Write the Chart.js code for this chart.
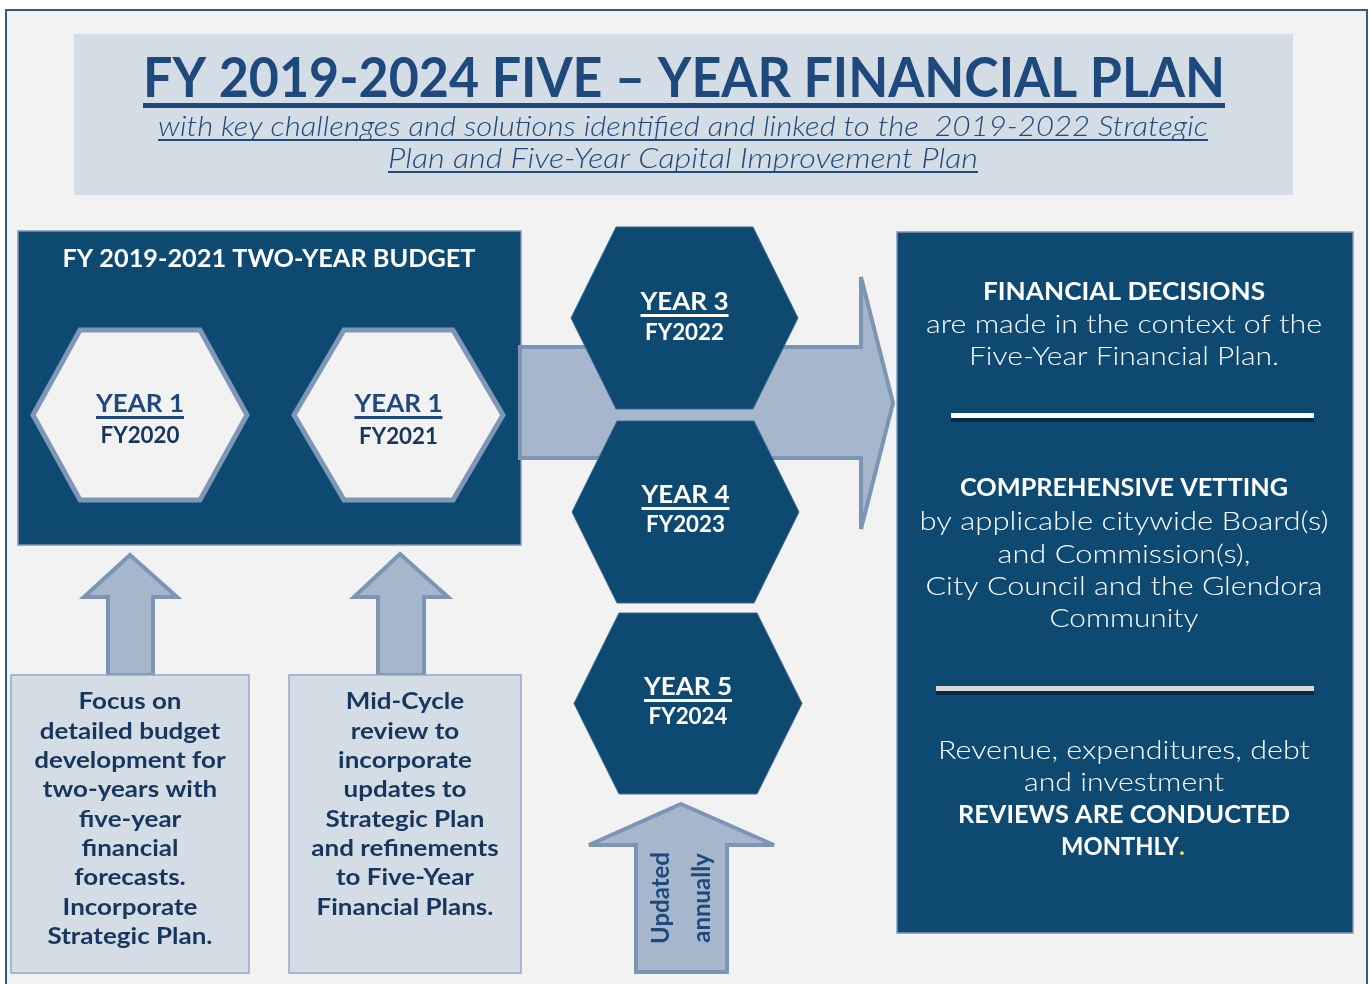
<!DOCTYPE html>
<html>
<head>
<meta charset="utf-8">
<script src="https://cdn.jsdelivr.net/npm/chart.js@4.4.0/dist/chart.umd.min.js"></script>
<style>
  html, body { margin: 0; padding: 0; background: #ffffff; }
  #plan { display: block; }
</style>
</head>
<body>
<canvas id="plan" width="1369" height="984"></canvas>
<script>
// Diagram text
const titleText = 'FY 2019-2024 FIVE \u2013 YEAR FINANCIAL PLAN';
const subtitleLines = [
    'with key challenges and solutions identified and linked to the  2019-2022 Strategic',
    'Plan and Five-Year Capital Improvement Plan'
];
const budgetHeader = 'FY 2019-2021 TWO-YEAR BUDGET';
const yearLabels = ['YEAR 1', 'YEAR 1', 'YEAR 3', 'YEAR 4', 'YEAR 5'];
const fiscalYears = ['FY2020', 'FY2021', 'FY2022', 'FY2023', 'FY2024'];
const focusLines = ['Focus on', 'detailed budget', 'development for', 'two-years with', 'five-year',
    'financial', 'forecasts.', 'Incorporate', 'Strategic Plan.'];
const midCycleLines = ['Mid-Cycle', 'review to', 'incorporate', 'updates to', 'Strategic Plan',
    'and refinements', 'to Five-Year', 'Financial Plans.'];
const updatedLines = ['Updated', 'annually'];
const decisionHead = 'FINANCIAL DECISIONS';
const decisionLines = ['are made in the context of the', 'Five-Year Financial Plan.'];
const vettingHead = 'COMPREHENSIVE VETTING';
const vettingLines = ['by applicable citywide Board(s)', 'and Commission(s),', 'City Council and the Glendora', 'Community'];
const reviewLines = ['Revenue, expenditures, debt', 'and investment'];
const reviewHeadLines = ['REVIEWS ARE CONDUCTED', 'MONTHLY'];

// Colours
const NAVY = '#0e4972';
const TITLE_BLUE = '#1f497d';
const INK = '#17365d';
const ARROW_FILL = '#a6b7cd';
const ARROW_LINE = '#7c94b5';
const PALE = '#d4dce6';

// Layout (page units, mapped through the chart scales)
const hexes = [
    { cx: 140, cy: 415, w: 214, h: 170, inset: 47, light: true, ty: [-11, 21] },
    { cx: 398.5, cy: 415, w: 209, h: 170, inset: 50, light: true, ty: [-11, 22] },
    { cx: 684.5, cy: 318, w: 227, h: 182, inset: 45, ty: [-16, 15] },
    { cx: 685.5, cy: 512, w: 227, h: 182, inset: 45, ty: [-17, 13] },
    { cx: 688, cy: 703.5, w: 228, h: 181, inset: 45, ty: [-16.5, 13.5] }
];

const BODY = '"Lato", "Open Sans", sans-serif';

const diagramPlugin = {
    id: 'diagram',
    beforeDraw(chart) {
        const ctx = chart.ctx;
        const sx = chart.scales.x, sy = chart.scales.y;
        const X = v => sx.getPixelForValue(v);
        const Y = v => sy.getPixelForValue(v);

        function poly(pts, fill, stroke, lw) {
            ctx.beginPath();
            pts.forEach((p, i) => i ? ctx.lineTo(X(p[0]), Y(p[1])) : ctx.moveTo(X(p[0]), Y(p[1])));
            ctx.closePath();
            if (fill) { ctx.fillStyle = fill; ctx.fill(); }
            if (stroke) { ctx.strokeStyle = stroke; ctx.lineWidth = lw; ctx.lineJoin = 'miter'; ctx.miterLimit = 4; ctx.stroke(); }
        }
        function rect(x0, y0, x1, y1, fill, stroke, lw) {
            poly([[x0, y0], [x1, y0], [x1, y1], [x0, y1]], fill, stroke, lw);
        }
        function text(str, x, y, font, color, opts = {}) {
            ctx.save();
            ctx.font = font;
            ctx.fillStyle = color;
            ctx.textBaseline = 'middle';
            ctx.textAlign = 'center';
            let w = ctx.measureText(str).width;
            let k = opts.sx || 1;
            if (opts.fit) { k = opts.fit / w; }
            ctx.translate(X(x), Y(y));
            ctx.scale(k, 1);
            ctx.fillText(str, 0, 0);
            ctx.restore();
            const drawn = w * k;
            if (opts.underline) {
                ctx.fillStyle = color;
                ctx.fillRect(X(x) - drawn / 2, Y(y + opts.underline[0]), drawn, opts.underline[1]);
            }
            return drawn;
        }
        function lines(arr, x, y0, step, font, color, k) {
            arr.forEach((s, i) => text(s, x, y0 + i * step, font, color, { sx: k }));
        }
        function hex(h) {
            const l = h.cx - h.w / 2, r = h.cx + h.w / 2, t = h.cy - h.h / 2, b = h.cy + h.h / 2;
            const pts = [[l, h.cy], [l + h.inset, t], [r - h.inset, t], [r, h.cy], [r - h.inset, b], [l + h.inset, b]];
            if (h.light) poly(pts, '#f2f2f2', '#7f97b6', 5);
            else poly(pts, NAVY, '#3f6a92', 1);
        }
        function upArrow(tipX, tipY, headY, headL, headR, shaftL, shaftR, bottom) {
            poly([[tipX, tipY], [headR, headY], [shaftR, headY], [shaftR, bottom], [shaftL, bottom],
                [shaftL, headY], [headL, headY]], ARROW_FILL, ARROW_LINE, 4);
        }

        // page frame
        ctx.fillStyle = '#ffffff';
        ctx.fillRect(0, 0, chart.width, chart.height);
        rect(6, 10, 1367, 990, '#f2f2f2', '#2f5d86', 2);

        // title block
        rect(74, 34, 1293, 195, PALE);
        text(titleText, 684, 79, 'bold 56px ' + BODY, TITLE_BLUE, { fit: 1082, underline: [24, 5] });
        text(subtitleLines[0], 683, 127, 'italic 300 27px ' + BODY, TITLE_BLUE, { fit: 1050, underline: [12, 2] });
        text(subtitleLines[1], 683, 159, 'italic 300 27px ' + BODY, TITLE_BLUE, { fit: 590, underline: [12, 2] });

        // two-year budget block
        rect(18, 231, 521, 545, NAVY, '#7f97b6', 1.5);
        text(budgetHeader, 269, 259, 'bold 25px ' + BODY, '#ffffff', { fit: 413 });

        // main arrow
        poly([[520, 347], [861, 347], [861, 277], [893, 403], [861, 529], [861, 458], [520, 458]],
            ARROW_FILL, ARROW_LINE, 4);

        // hexagons
        hexes.forEach((h, i) => {
            hex(h);
            const c = h.light ? TITLE_BLUE : '#ffffff';
            const c2 = h.light ? INK : '#ffffff';
            text(yearLabels[i], h.cx, h.cy + h.ty[0], 'bold 25px ' + BODY, c, { fit: 88, underline: [12, 3] });
            text(fiscalYears[i], h.cx, h.cy + h.ty[1], 'bold 23px ' + BODY, c2, { fit: 79 });
        });

        // decisions block
        rect(897, 232, 1353, 933, NAVY, '#7f97b6', 1.5);
        text(decisionHead, 1124, 292, 'bold 25px ' + BODY, '#ffffff', { fit: 282 });
        text(decisionLines[0], 1124, 325, '300 26px ' + BODY, '#ffffff', { fit: 396 });
        text(decisionLines[1], 1124, 357, '300 26px ' + BODY, '#ffffff', { fit: 310 });
        ctx.fillStyle = '#072a44';
        ctx.fillRect(X(951), Y(418), X(1314) - X(951), 4);
        ctx.fillStyle = '#ffffff';
        ctx.fillRect(X(951), Y(413), X(1314) - X(951), 5);

        text(vettingHead, 1124, 488, 'bold 25px ' + BODY, '#ffffff', { fit: 328 });
        const vetW = [409, 253, 397, 149];
        vettingLines.forEach((s, i) => text(s, 1124, 522 + i * 32.3, '300 26px ' + BODY, '#ffffff', { fit: vetW[i] }));

        ctx.fillStyle = '#072a44';
        ctx.fillRect(X(936), Y(691), X(1314) - X(936), 4);
        ctx.fillStyle = '#d9d9d9';
        ctx.fillRect(X(936), Y(686), X(1314) - X(936), 5);

        text(reviewLines[0], 1124, 751, '300 26px ' + BODY, '#ffffff', { fit: 372 });
        text(reviewLines[1], 1124, 783, '300 26px ' + BODY, '#ffffff', { fit: 200 });
        text(reviewHeadLines[0], 1124, 815, 'bold 25px ' + BODY, '#ffffff', { fit: 332 });
        const mw = text(reviewHeadLines[1], 1120, 847, 'bold 25px ' + BODY, '#ffffff', { fit: 118 });
        ctx.font = 'bold 25px ' + BODY;
        ctx.fillStyle = '#e6df55';
        ctx.textAlign = 'left';
        ctx.textBaseline = 'middle';
        ctx.fillText('.', X(1120) + mw / 2, Y(847));

        // small arrows and notes
        upArrow(130, 555, 597, 84, 177, 108, 153, 675);
        upArrow(400, 554, 597, 354, 448, 378, 424, 675);
        rect(11, 675, 249, 973, PALE, '#93a8c4', 1.5);
        rect(289, 675, 521, 973, PALE, '#93a8c4', 1.5);
        lines(focusLines, 130, 702, 29.3, 'bold 23px ' + BODY, INK, 1.13);
        lines(midCycleLines, 405, 702, 29.3, 'bold 23px ' + BODY, INK, 1.13);

        // updated annually arrow
        upArrow(681, 804, 845, 589, 774, 636, 727, 972);
        ctx.save();
        ctx.translate(X(681), Y(898));
        ctx.rotate(-Math.PI / 2);
        ctx.font = 'bold 24px ' + BODY;
        ctx.fillStyle = TITLE_BLUE;
        ctx.textAlign = 'center';
        ctx.textBaseline = 'middle';
        ctx.fillText(updatedLines[0], 0, -20);
        ctx.fillText(updatedLines[1], 0, 21);
        ctx.restore();
    }
};

const planCanvas = document.getElementById('plan');
new Chart(planCanvas.getContext('2d'), {
    type: 'scatter',
    data: { datasets: [{ data: [], showLine: false }] },
    options: {
        responsive: false,
        animation: false,
        layout: { padding: 0 },
        plugins: { legend: { display: false }, tooltip: { enabled: false } },
        scales: {
            x: { type: 'linear', min: 0, max: 1369, display: false },
            y: { type: 'linear', min: 0, max: 984, reverse: true, display: false }
        }
    },
    plugins: [diagramPlugin]
});
</script>
</body>
</html>
